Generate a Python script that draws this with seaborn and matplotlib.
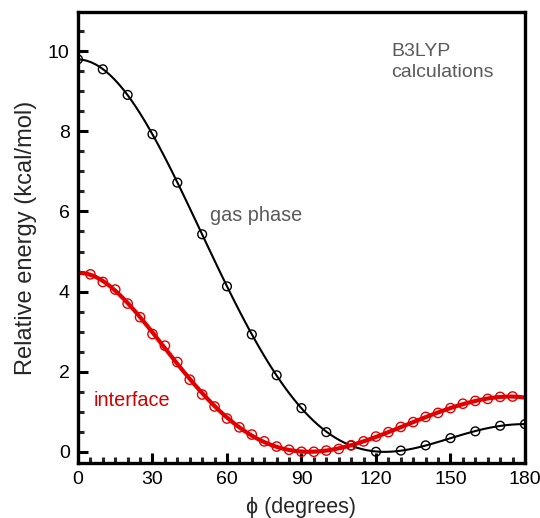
import numpy as np
import matplotlib
matplotlib.use("Agg")
import matplotlib.pyplot as plt
import pandas as pd
import seaborn as sns
from matplotlib.ticker import MultipleLocator

# gas phase B3LYP scan (every 10 degrees)
gas_phi = [0, 10, 20, 30, 40, 50, 60, 70, 80, 90,
           100, 110, 120, 130, 140, 150, 160, 170, 180]
gas_energy = [9.80, 9.55, 8.91, 7.93, 6.72, 5.43, 4.13, 2.93, 1.91, 1.09,
              0.49, 0.16, 0.00, 0.03, 0.16, 0.34, 0.51, 0.65, 0.69]

# interface scan (every 5 degrees)
int_phi = [5, 10, 15, 20, 25, 30, 35, 40, 45, 50, 55, 60, 65, 70, 75, 80, 85,
           90, 95, 100, 105, 110, 115, 120, 125, 130, 135, 140, 145, 150,
           155, 160, 165, 170, 175]
int_energy = [4.43, 4.24, 4.05, 3.70, 3.36, 2.94, 2.65, 2.24, 1.80, 1.43,
              1.13, 0.83, 0.61, 0.43, 0.26, 0.13, 0.05, 0.00, 0.00, 0.03,
              0.07, 0.16, 0.26, 0.38, 0.49, 0.62, 0.74, 0.87, 0.97, 1.09,
              1.20, 1.27, 1.32, 1.37, 1.38]

gas = pd.DataFrame({"phi": gas_phi, "energy": gas_energy})
inter = pd.DataFrame({"phi": int_phi, "energy": int_energy})

sns.set_style("ticks")
plt.rcParams["font.family"] = ["Liberation Sans", "DejaVu Sans"]

fig = plt.figure(figsize=(5.4, 5.18), dpi=100)
ax = fig.add_axes([0.1444, 0.1062, 0.8278, 0.8706])
ax.set_xlim(0, 180)
ax.set_ylim(-0.28, 10.98)

# smooth fitted curves
sns.regplot(data=gas, x="phi", y="energy", order=7, ci=None, scatter=False,
            truncate=False, color="black", line_kws={"lw": 1.5}, ax=ax)
sns.regplot(data=inter, x="phi", y="energy", order=7, ci=None, scatter=False,
            truncate=False, color="#e00000", line_kws={"lw": 3}, ax=ax)

# computed points, open circles
sns.scatterplot(data=gas, x="phi", y="energy", marker="o", s=40,
                facecolor="none", edgecolor="black", linewidth=1, ax=ax, zorder=5)
sns.scatterplot(data=inter, x="phi", y="energy", marker="o", s=45,
                facecolor="none", edgecolor="#e00000", linewidth=1, ax=ax, zorder=5)

ax.set_xlim(0, 180)
ax.set_ylim(-0.28, 10.98)

ax.xaxis.set_major_locator(MultipleLocator(30))
ax.xaxis.set_minor_locator(MultipleLocator(5))
ax.yaxis.set_major_locator(MultipleLocator(2))
ax.yaxis.set_minor_locator(MultipleLocator(0.5))
ax.tick_params(which="major", direction="in", length=7, width=2.2,
               labelsize=14, pad=6, colors="black")
ax.tick_params(which="minor", direction="in", length=4.5, width=2.2)
ax.tick_params(top=False, right=False, which="both")
for sp in ax.spines.values():
    sp.set_linewidth(2.4)
    sp.set_color("black")

ax.set_xlabel("\u03d5 (degrees)", fontsize=15.5, labelpad=6)
ax.set_ylabel("Relative energy (kcal/mol)", fontsize=17, labelpad=8)

ax.text(126.3, 10.0, "B3LYP", color="#5a5a5a", fontsize=14,
        ha="left", va="center")
ax.text(126.0, 9.48, "calculations", color="#5a5a5a", fontsize=14,
        ha="left", va="center")
ax.text(53, 5.9, "gas phase", color="#5a5a5a", fontsize=14.3, va="center")
ax.text(6.5, 1.28, "interface", color="#d00000", fontsize=14.3, va="center")

fig.savefig("out.png", dpi=100)
